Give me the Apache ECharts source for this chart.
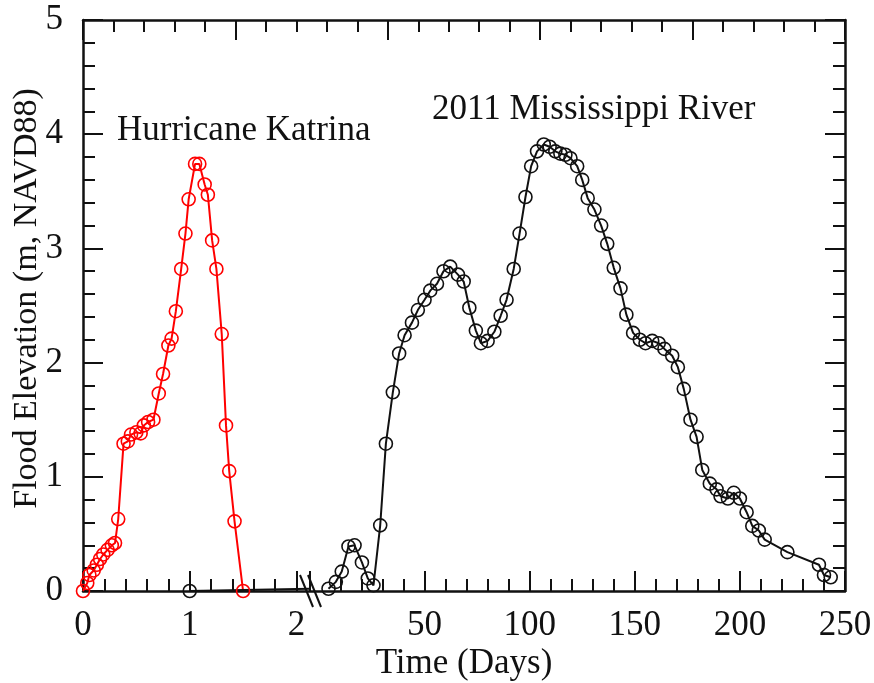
<!DOCTYPE html>
<html>
<head>
<meta charset="utf-8">
<script src="https://cdn.jsdelivr.net/npm/echarts@6/dist/echarts.min.js"></script>
<style>
  html, body { margin: 0; padding: 0; background: #fff; }
  #chart { width: 874px; height: 683px; }
</style>
</head>
<body>
<div id="chart"></div>
<script>
// Hurricane Katrina (time in days, left segment of the broken axis)
var katrinaDays = [0, 0.04, 0.06, 0.1, 0.13, 0.16, 0.19, 0.23, 0.27, 0.3, 0.33, 0.38, 0.42, 0.45, 0.5, 0.54,
  0.57, 0.61, 0.66, 0.71, 0.75, 0.8, 0.83, 0.87, 0.92, 0.96, 0.99, 1.05, 1.09, 1.14, 1.17, 1.21, 1.25,
  1.3, 1.34, 1.37, 1.42, 1.5];
var katrinaElev = [0, 0.07, 0.14, 0.18, 0.23, 0.28, 0.32, 0.36, 0.4, 0.42, 0.63, 1.29, 1.31, 1.37, 1.39, 1.38,
  1.45, 1.48, 1.5, 1.73, 1.9, 2.15, 2.21, 2.45, 2.82, 3.13, 3.43, 3.74, 3.74, 3.56, 3.47, 3.07, 2.82,
  2.25, 1.45, 1.05, 0.61, 0];

// 2011 Mississippi River, stub drawn on the left segment
var missLeftDays = [1, 2.127];
var missLeftElev = [0, 0.02];

// 2011 Mississippi River (right segment)
var missDays = [4.3, 7.8, 10.6, 13.8, 16.7, 20.2, 23.0, 25.7, 28.9, 31.6, 34.9, 37.9, 40.5, 44.0, 46.8,
  50.0, 52.7, 55.9, 59.0, 62.2, 65.9, 68.6, 71.3, 74.4, 76.8, 80.0, 83.2, 86.2, 89.0, 92.4, 95.2, 98.0,
  100.7, 103.5, 106.7, 109.5, 112.2, 114.6, 117.0, 119.4, 122.6, 125.0, 127.6, 130.8, 134.0, 136.9,
  140.0, 143.2, 146.0, 149.2, 152.4, 155.1, 158.3, 161.4, 164.1, 167.8, 170.5, 173.3, 176.5, 179.4,
  182.1, 185.7, 188.9, 190.8, 194.3, 197.1, 200.0, 203.2, 205.9, 209.0, 211.8, 222.6, 237.6, 240.0, 243.2];
var missElev = [0.02, 0.08, 0.17, 0.39, 0.40, 0.25, 0.11, 0.05, 0.575, 1.29, 1.74, 2.08, 2.24, 2.35, 2.46,
  2.55, 2.63, 2.69, 2.80, 2.84, 2.77, 2.71, 2.48, 2.28, 2.17, 2.19, 2.27, 2.41, 2.55, 2.82, 3.13, 3.45,
  3.72, 3.85, 3.91, 3.89, 3.85, 3.83, 3.82, 3.79, 3.72, 3.60, 3.44, 3.34, 3.20, 3.04,
  2.83, 2.65, 2.42, 2.26, 2.20, 2.17, 2.19, 2.17, 2.12, 2.06, 1.96, 1.77, 1.50, 1.35,
  1.06, 0.94, 0.89, 0.83, 0.81, 0.86, 0.81, 0.69, 0.57, 0.53, 0.45, 0.34, 0.23, 0.14, 0.12];

var leftTickLabels = [0, 1, 2];
var rightMajorTicks = [50, 100, 150, 200, 250];
var rightMinorTicks = [10, 20, 30, 40, 60, 70, 80, 90, 110, 120, 130, 140, 160, 170, 180, 190,
  210, 220, 230, 240];

var FONT = '"Liberation Serif", "Times New Roman", serif';
var INK = '#111';
var RED = '#ff0000';

function zip(xs, ys) {
  return xs.map(function (x, i) { return [x, ys[i]]; });
}

var chart = echarts.init(document.getElementById('chart'));

var tickMajor = { show: true, inside: true, length: 20, lineStyle: { color: INK, width: 2 } };
var tickMinor = { show: true, splitNumber: 5, length: 12, lineStyle: { color: INK, width: 2 } };
var frameLine = { show: true, onZero: false, lineStyle: { color: INK, width: 2.5 } };
var noLine = { show: false, onZero: false };
var noSplit = { show: false };

var option = {
  animation: false,
  backgroundColor: '#fff',
  grid: [
    { left: 83, right: 564, top: 20, bottom: 92, outerBoundsMode: 'none' },   // left segment
    { left: 310, right: 29, top: 20, bottom: 92, outerBoundsMode: 'none' },   // right segment
    { left: 83, right: 29, top: 20, bottom: 92, outerBoundsMode: 'none' }     // frame
  ],
  xAxis: [
    {
      gridIndex: 0, type: 'value', position: 'bottom', min: 0, max: 2.127, interval: 1,
      axisLine: noLine,
      axisTick: tickMajor,
      minorTick: tickMinor,
      splitLine: noSplit, minorSplitLine: noSplit,
      axisLabel: {
        margin: 17, fontFamily: FONT, fontSize: 35, color: INK,
        formatter: function (v) { return leftTickLabels.indexOf(v) >= 0 ? String(v) : ''; }
      }
    },
    {
      gridIndex: 1, type: 'value', position: 'bottom', min: -4.5, max: 250,
      axisLine: noLine,
      axisTick: { show: true, inside: true, length: 20, customValues: rightMajorTicks, lineStyle: { color: INK, width: 2 } },
      splitLine: noSplit,
      axisLabel: { margin: 17, fontFamily: FONT, fontSize: 35, color: INK, customValues: rightMajorTicks }
    },
    {
      gridIndex: 1, type: 'value', position: 'bottom', min: -4.5, max: 250,
      axisLine: noLine,
      axisTick: { show: true, inside: true, length: 12, customValues: rightMinorTicks, lineStyle: { color: INK, width: 2 } },
      splitLine: noSplit,
      axisLabel: { show: false }
    },
    {
      gridIndex: 2, type: 'value', position: 'bottom', min: 0, max: 250,
      axisLine: frameLine,
      axisTick: { show: false }, axisLabel: { show: false }, splitLine: noSplit,
      name: 'Time (Days)', nameLocation: 'middle', nameGap: 55, nameMoveOverlap: false,
      nameTextStyle: { fontFamily: FONT, fontSize: 35, color: INK }
    },
    {
      gridIndex: 2, type: 'value', position: 'top', min: 0, max: 250, interval: 50,
      axisLine: frameLine,
      axisTick: tickMajor, minorTick: tickMinor,
      axisLabel: { show: false }, splitLine: noSplit, minorSplitLine: noSplit
    }
  ],
  yAxis: [
    { gridIndex: 0, type: 'value', min: 0, max: 5, show: false },
    { gridIndex: 1, type: 'value', min: 0, max: 5, show: false },
    {
      gridIndex: 2, type: 'value', position: 'left', min: 0, max: 5, interval: 1,
      axisLine: frameLine,
      axisTick: tickMajor, minorTick: tickMinor,
      splitLine: noSplit, minorSplitLine: noSplit,
      axisLabel: { margin: 20, fontFamily: FONT, fontSize: 35, color: INK },
      name: 'Flood Elevation (m, NAVD88)', nameLocation: 'middle', nameGap: 39, nameMoveOverlap: false,
      nameTextStyle: { fontFamily: FONT, fontSize: 34, color: INK, padding: [0, 0, 0, 14] }
    },
    {
      gridIndex: 2, type: 'value', position: 'right', min: 0, max: 5, interval: 1,
      axisLine: frameLine,
      axisTick: tickMajor, minorTick: tickMinor,
      splitLine: noSplit, minorSplitLine: noSplit,
      axisLabel: { show: false }
    }
  ],
  graphic: [
    { type: 'text', left: 117, top: 113, style: { text: 'Hurricane Katrina', font: '35px ' + FONT, fill: INK } },
    { type: 'text', left: 432, top: 92, style: { text: '2011 Mississippi River', font: '35px ' + FONT, fill: INK } },
    // axis break marks
    { type: 'line', shape: { x1: 300, y1: 575, x2: 313, y2: 607 }, style: { stroke: INK, lineWidth: 2 } },
    { type: 'line', shape: { x1: 308, y1: 575, x2: 321, y2: 607 }, style: { stroke: INK, lineWidth: 2 } }
  ],
  series: [
    {
      name: 'Hurricane Katrina', type: 'line', xAxisIndex: 0, yAxisIndex: 0, clip: false,
      data: zip(katrinaDays, katrinaElev),
      symbol: 'circle', symbolSize: 13,
      itemStyle: { color: 'rgba(0,0,0,0)', borderColor: RED, borderWidth: 1.6 },
      lineStyle: { color: RED, width: 2 }
    },
    {
      name: 'Mississippi stub', type: 'line', xAxisIndex: 0, yAxisIndex: 0, clip: false,
      data: zip(missLeftDays, missLeftElev).map(function (p, i) {
        return i === 0 ? p : { value: p, symbol: 'none' };
      }),
      symbol: 'circle', symbolSize: 13,
      itemStyle: { color: 'rgba(0,0,0,0)', borderColor: INK, borderWidth: 1.6 },
      lineStyle: { color: INK, width: 2 }
    },
    {
      name: '2011 Mississippi River', type: 'line', xAxisIndex: 1, yAxisIndex: 1, clip: false,
      data: zip(missDays, missElev),
      symbol: 'circle', symbolSize: 13,
      itemStyle: { color: 'rgba(0,0,0,0)', borderColor: INK, borderWidth: 1.6 },
      lineStyle: { color: INK, width: 2 }
    }
  ]
};

chart.setOption(option);
</script>
</body>
</html>
